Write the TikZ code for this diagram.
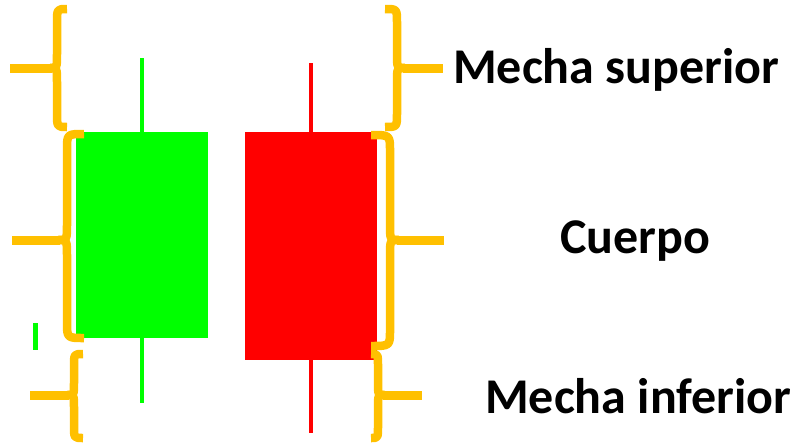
\documentclass[tikz,border=0pt]{standalone}
\usepackage{fontspec}
\setmainfont{Carlito}
\definecolor{brOrange}{HTML}{FFC000}
\definecolor{cGreen}{HTML}{00FF00}
\definecolor{cRed}{HTML}{FF0000}
\tikzset{
  bracestroke/.style={draw=brOrange, line width=8.5pt, line cap=butt, line join=round},
  barstroke/.style={draw=brOrange, line width=9pt, line cap=butt},
  lbl/.style={font=\bfseries\fontsize{50}{50}\selectfont, inner sep=0pt, anchor=base west},
}
% #1 end x, #2 spine x, #3 tip x, #4 top y, #5 mid y, #6 bottom y, #7 r
\newcommand{\mybrace}[7]{%
  \draw[bracestroke] (#1,#4) .. controls (#2,#4) .. (#2,#4+#7) -- (#2,#5-#7)
     .. controls (#2,#5) .. (#3,#5);
  \draw[bracestroke] (#3,#5) .. controls (#2,#5) .. (#2,#5+#7) -- (#2,#6-#7)
     .. controls (#2,#6) .. (#1,#6);
}
\begin{document}
\begin{tikzpicture}[x=1pt,y=-1pt]
\useasboundingbox (0,0) rectangle (799,442);
% candles
\fill[cGreen] (140,58) rectangle (144,403);
\fill[cGreen] (76,132) rectangle (208,338);
\fill[cGreen] (33,323) rectangle (38,350);
\fill[cRed] (309,63) rectangle (313,433);
\fill[cRed] (245,132) rectangle (377,360);
% left braces
\mybrace{67}{57}{50}{9}{68}{127}{14}
\draw[barstroke] (10,68) -- (52,68);
\mybrace{84}{67}{58}{134}{240}{338}{16}
\draw[barstroke] (12,240) -- (60,240);
\mybrace{83}{74}{67}{354}{395}{438}{12}
\draw[barstroke] (30,395) -- (69,395);
% right braces
\mybrace{385}{397}{405}{9}{68}{127}{14}
\draw[barstroke] (403,68) -- (443,68);
\mybrace{371}{390}{399}{135}{240}{346}{16}
\draw[barstroke] (397,240) -- (444,240);
\mybrace{371}{378}{385}{354}{395}{438}{12}
\draw[barstroke] (383,395) -- (422,395);
% labels
\node[lbl] (sup) at (453,83) {Mecha superior};
\node[lbl] (cue) at (560,253) {Cuerpo};
\node[lbl] (inf) at (485,413) {Mecha inferior};
\end{tikzpicture}
\end{document}
